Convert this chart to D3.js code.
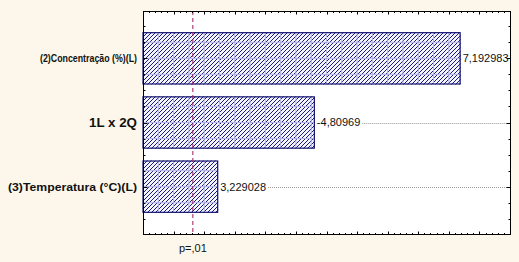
<!DOCTYPE html>
<html><head><meta charset="utf-8">
<script src="https://cdn.jsdelivr.net/npm/d3@7"></script>
<style>
html,body{margin:0;padding:0;background:#fcf7ea;}
svg{display:block;font-family:"Liberation Sans",Arial,sans-serif;}
</style></head>
<body>
<svg id="chart" width="519" height="262"></svg>
<script>
// ---- data ----
const categories = ["(2)Concentração (%)(L)", "1L x 2Q", "(3)Temperatura (°C)(L)"];
const effects = [7.192983, -4.80969, 3.229028];
const valueLabels = ["7,192983", "-4,80969", "3,229028"];
const pCritical = 2.815;
const pLabel = "p=,01";
const xDomain = [2, 8];

// ---- layout ----
const W = 519, H = 262;
const m = {left: 143, top: 11, right: 9, bottom: 28};
const svg = d3.select("#chart");
const x = d3.scaleLinear().domain(xDomain).range([m.left, W - m.right]);
const y = d3.scaleBand().domain(categories).range([m.top, H - m.bottom])
  .paddingInner(0.185).paddingOuter(0.33);

const defs = svg.append("defs");
const pat = defs.append("pattern").attr("id", "hatch")
  .attr("patternUnits", "userSpaceOnUse").attr("width", 4).attr("height", 4);
pat.append("rect").attr("width", 4).attr("height", 4).attr("fill", "#f4f4fc");
pat.append("path").attr("d", "M-1,1 l2,-2 M0,4 l4,-4 M3,5 l2,-2")
  .attr("stroke", "#1a1a80").attr("stroke-width", 1);

// plot background
svg.append("rect").attr("x", m.left).attr("y", m.top)
  .attr("width", W - m.left - m.right).attr("height", H - m.top - m.bottom)
  .attr("fill", "#ffffff");

const data = categories.map((c, i) => ({cat: c, v: effects[i], lab: valueLabels[i]}));

// bars
data.forEach((d, i) => {
  const x0 = x(xDomain[0]), x1 = x(Math.abs(d.v));
  const y0 = y(d.cat), bh = y.bandwidth();
  const cid = "clip" + i;
  defs.append("clipPath").attr("id", cid).append("rect")
    .attr("x", x0).attr("y", y0).attr("width", x1 - x0).attr("height", bh);
  svg.append("rect").attr("x", x0).attr("y", y0).attr("width", x1 - x0).attr("height", bh)
    .attr("fill", "url(#hatch)");
  const g = svg.append("g").attr("clip-path", `url(#${cid})`);
  // vertical grid inside bars
  d3.range(xDomain[0], xDomain[1] + 0.001, 0.25).forEach(t => {
    g.append("line").attr("x1", x(t)).attr("x2", x(t)).attr("y1", y0).attr("y2", y0 + bh)
      .attr("stroke", "#b4b4e6").attr("stroke-width", 1);
  });
  const c = y0 + bh / 2;
  [-1, 0, 1].forEach(k => {
    const yy = c + k * y.step() / 4;
    g.append("line").attr("x1", x0).attr("x2", x1).attr("y1", yy).attr("y2", yy)
      .attr("stroke", "#b4b4e6").attr("stroke-width", 1);
  });
  svg.append("rect").attr("x", x0).attr("y", y0 + 0.5).attr("width", x1 - x0 - 0.5).attr("height", bh - 1)
    .attr("fill", "none").attr("stroke", "#14146e").attr("stroke-width", 1.2);
});

// value labels + dotted lines
data.forEach(d => {
  const c = y(d.cat) + y.bandwidth() / 2;
  const tx = x(Math.abs(d.v)) + 2;
  const t = svg.append("text").attr("x", tx).attr("y", c).attr("dy", "0.35em")
    .attr("font-size", 11).attr("fill", "#111").text(d.lab);
  const tw = t.node().getComputedTextLength();
  if (tx + tw + 2 < x(xDomain[1])) {
    svg.append("line").attr("x1", tx + tw + 2).attr("x2", x(xDomain[1]))
      .attr("y1", Math.round(c) + 0.5).attr("y2", Math.round(c) + 0.5)
      .attr("stroke", "#999").attr("stroke-dasharray", "1,1");
  }
});

// p line
svg.append("line").attr("x1", x(pCritical)).attr("x2", x(pCritical))
  .attr("y1", m.top).attr("y2", H - m.bottom)
  .attr("stroke", "#9c1a5a").attr("stroke-width", 1).attr("stroke-dasharray", "4,3");
svg.append("text").attr("x", x(pCritical)).attr("y", 248).attr("dy", "0.35em")
  .attr("text-anchor", "middle").attr("font-size", 11).attr("fill", "#111").text(pLabel);

// frame
const fx0 = m.left + 0.5, fx1 = W - m.right + 0.5, fy0 = m.top + 0.5, fy1 = H - m.bottom + 0.5;
svg.append("rect").attr("x", fx0).attr("y", fy0).attr("width", fx1 - fx0).attr("height", fy1 - fy0)
  .attr("fill", "none").attr("stroke", "#000").attr("stroke-width", 1);

// x ticks (top & bottom, inward)
const minor = d3.range(xDomain[0], xDomain[1] + 0.001, 0.1);
minor.forEach(t => {
  const isMajor = Math.abs(t * 2 - Math.round(t * 2)) < 1e-6;
  const len = isMajor ? 3 : 1.5;
  const xx = Math.round(x(t)) + 0.5;
  svg.append("line").attr("x1", xx).attr("x2", xx).attr("y1", fy1).attr("y2", fy1 - len).attr("stroke", "#000");
  svg.append("line").attr("x1", xx).attr("x2", xx).attr("y1", fy0).attr("y2", fy0 + len).attr("stroke", "#000");
});
// y ticks (left & right, inward)
const ySet = new Set();
categories.forEach(cat => {
  const c = y(cat) + y.bandwidth() / 2;
  [-2, -1, 0, 1, 2].forEach(k => {
    const yy = Math.round(c + k * y.step() / 4) + 0.5;
    if (ySet.has(yy)) return; ySet.add(yy);
    const len = k === 0 ? 4 : 2;
    svg.append("line").attr("x1", fx0).attr("x2", fx0 + len).attr("y1", yy).attr("y2", yy).attr("stroke", "#000");
    svg.append("line").attr("x1", fx1).attr("x2", fx1 - len).attr("y1", yy).attr("y2", yy).attr("stroke", "#000");
  });
});

// category labels
const labSize = [11, 13, 11];
const labWidth = [97, 48, 129];
categories.forEach((cat, i) => {
  const c = y(cat) + y.bandwidth() / 2;
  svg.append("text").attr("x", 137).attr("y", c).attr("dy", "0.35em")
    .attr("text-anchor", "end").attr("font-size", labSize[i]).attr("font-weight", "bold")
    .attr("fill", "#111")
    .attr("textLength", labWidth[i]).attr("lengthAdjust", "spacingAndGlyphs")
    .text(cat);
});
</script>
</body></html>
